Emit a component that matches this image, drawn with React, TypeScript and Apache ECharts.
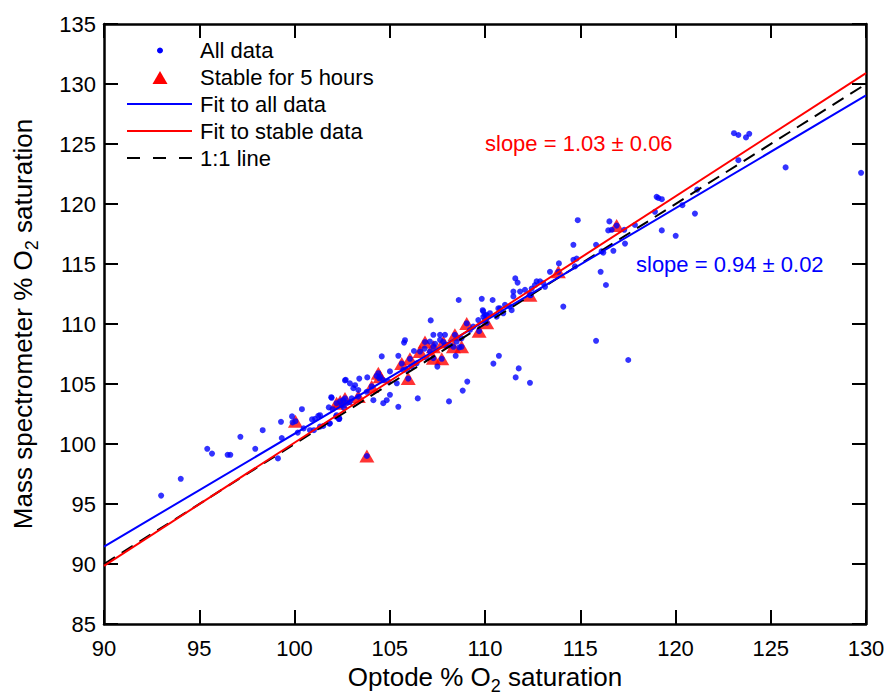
import React, { useEffect, useRef } from "react";
import * as echarts from "echarts";

// Stable for 5 hours (optode %, mass spectrometer %)
const stableData: [number, number][] = [
  [100.05, 101.9], [102.21, 103.4], [102.4, 103.55], [102.65, 103.8], [103.35, 103.95],
  [103.8, 99.0], [104.05, 104.8], [104.4, 105.9], [104.5, 105.6], [105.63, 106.7],
  [105.97, 105.45], [106.06, 107.1], [106.59, 107.7], [106.85, 108.5], [107.29, 107.15],
  [107.29, 108.1], [107.73, 107.1], [107.81, 108.5], [108.34, 108.1], [108.42, 109.1],
  [108.77, 108.1], [109.04, 110.05], [109.69, 109.4], [110.09, 110.1], [112.36, 112.4],
  [113.85, 114.35], [116.91, 118.2],
];

// Remaining points of the full record
const otherData: [number, number][] = [
  [93.0, 95.7], [94.03, 97.1], [95.42, 99.6], [95.67, 99.2], [96.49, 99.1], [96.63, 99.1],
  [97.16, 100.6], [97.94, 99.6], [98.33, 101.15], [99.13, 98.8], [99.29, 101.85], [99.33, 100.5],
  [99.87, 102.3], [99.9, 101.8], [100.39, 102.9], [100.17, 100.95], [100.48, 101.3], [100.81, 101.15],
  [101.02, 101.15], [100.92, 102.05], [101.08, 102.1], [101.25, 102.35], [101.34, 102.4], [101.34, 101.45],
  [101.51, 101.5], [101.83, 101.7], [101.8, 103.05], [101.93, 103.9], [102.32, 102.1], [102.21, 102.4],
  [102.69, 105.35], [101.95, 103.85], [102.35, 102.15], [102.65, 105.3], [102.91, 105.05], [103.09, 104.65],
  [103.35, 104.5], [103.18, 104.9], [103.4, 105.45], [103.82, 105.55], [102.56, 103.65], [102.74, 103.4],
  [102.48, 103.25], [102.9, 103.5], [102.6, 103.0], [103.79, 104.35], [104.14, 103.65], [104.66, 103.4],
  [104.84, 103.65], [105.01, 104.1], [105.45, 103.1], [104.58, 107.3], [105.01, 106.05], [105.45, 107.35],
  [105.75, 108.45], [105.8, 108.65], [105.92, 106.15], [106.27, 107.75], [106.47, 103.8], [107.15, 110.3],
  [106.83, 107.95], [106.94, 107.15], [107.11, 107.7], [107.29, 109.1], [107.64, 109.1], [107.9, 109.1],
  [107.38, 108.35], [107.5, 106.45], [107.9, 108.25], [108.46, 107.35], [108.11, 103.55], [108.62, 112.0],
  [108.83, 104.45], [109.07, 105.2], [108.65, 108.05], [109.83, 112.1], [110.4, 112.0], [111.05, 111.6],
  [109.91, 111.05], [110.0, 110.75], [110.26, 110.9], [110.7, 111.3], [110.44, 106.7], [110.73, 107.35],
  [111.61, 105.55], [111.77, 106.3], [112.36, 105.1], [111.59, 113.8], [111.71, 113.45], [111.49, 112.7],
  [111.84, 112.7], [112.1, 112.85], [112.45, 112.95], [112.62, 113.25], [112.89, 113.55], [113.06, 113.4],
  [110.79, 111.3], [111.4, 111.15], [111.49, 112.3], [112.4, 112.4], [112.71, 113.55], [113.15, 113.1],
  [113.41, 114.35], [113.88, 115.05], [114.11, 111.45], [114.64, 116.6], [114.64, 115.35], [114.81, 115.45],
  [114.87, 118.65], [114.72, 114.8], [115.83, 116.6], [116.07, 114.35], [116.35, 113.25], [116.12, 116.05],
  [116.21, 115.95], [115.83, 108.6], [116.53, 118.55], [116.47, 117.8], [116.65, 117.85], [116.74, 116.1],
  [117.35, 116.7], [117.31, 117.85], [117.52, 107.0], [117.87, 118.25], [119.01, 120.6], [119.1, 120.5],
  [119.28, 120.4], [118.92, 119.35], [119.28, 117.8], [120.01, 117.35], [120.36, 119.9], [121.02, 119.2],
  [121.14, 121.2], [123.07, 125.9], [123.3, 125.75], [123.7, 125.55], [123.87, 125.85], [123.3, 123.65],
  [125.78, 123.05], [129.74, 122.6], [109.88, 111.15], [110.09, 110.75], [109.91, 110.6], [110.0, 110.35],
  [104.31, 105.67], [104.45, 105.47], [104.66, 105.33], [104.93, 105.19], [105.37, 105.06], [105.71, 106.17],
  [106.15, 106.44], [106.41, 106.72], [107.11, 108.53], [107.64, 108.67], [108.16, 108.25], [108.51, 108.53],
  [108.77, 108.81], [109.21, 109.5], [109.38, 109.78], [109.65, 110.33], [110.61, 110.61], [110.96, 110.89],
  [111.31, 111.44], [101.86, 101.72], [102.18, 102.28], [102.35, 102.08], [102.0, 102.9], [103.0, 103.8],
];

const allData: [number, number][] = [...otherData, ...stableData];

const fitAllLine: [number, number][] = [[90, 91.45], [130, 129.05]];
const fitStableLine: [number, number][] = [[90, 89.85], [130, 130.9]];
const oneToOneLine: [number, number][] = [[90, 90], [130, 130]];

const legendLabels = ["All data", "Stable for 5 hours", "Fit to all data", "Fit to stable data", "1:1 line"];
const slopeLabels = ["slope = 1.03 \u00b1 0.06", "slope = 0.94 \u00b1 0.02"];

const FONT = '"Liberation Sans", Arial, Helvetica, sans-serif';
const BLUE = "#0000ff";
const RED = "#ff0000";

export default function App() {
  const ref = useRef<HTMLDivElement>(null);

  useEffect(() => {
    if (!ref.current) return;
    const chart = echarts.init(ref.current, undefined, { renderer: "svg" });

    const axisCommon = {
      type: "value" as const,
      splitLine: { show: false },
      axisLine: { show: true, onZero: false, lineStyle: { color: "#000", width: 2.5 } },
      axisTick: { show: true, inside: true, length: 14, lineStyle: { color: "#000", width: 2 } },
    };

    const titleRich = {
      a: { fontSize: 26, fontFamily: FONT, color: "#000", lineHeight: 30, verticalAlign: "top" },
      s: { fontSize: 18, fontFamily: FONT, color: "#000", lineHeight: 18, verticalAlign: "top", padding: [13, 0, 0, 0] },
    };

    const textStyleBase = (fill: string) => ({
      fill,
      fontSize: 22,
      fontFamily: FONT,
      align: "left",
      verticalAlign: "middle",
      textAlign: "left",
      textVerticalAlign: "middle",
    });

    const legendX = 200;
    const legendYs = [50.5, 77.5, 104, 131, 158];

    chart.setOption({
      animation: false,
      backgroundColor: "#fff",
      grid: { left: 104, top: 24, width: 762, height: 600, containLabel: false, outerBoundsMode: "none" },
      xAxis: [
        {
          ...axisCommon,
          position: "bottom",
          min: 90,
          max: 130,
          interval: 5,
          axisLabel: { show: true, margin: 13, fontSize: 22, fontFamily: FONT, color: "#000", showMinLabel: true, showMaxLabel: true },
          name: "{a|Optode % O}{s|2}{a| saturation}",
          nameLocation: "middle",
          nameGap: 38,
          nameTextStyle: { rich: titleRich },
        },
        {
          ...axisCommon,
          position: "top",
          min: 90,
          max: 130,
          interval: 5,
          axisLabel: { show: false },
        },
      ],
      yAxis: [
        {
          ...axisCommon,
          position: "left",
          min: 85,
          max: 135,
          interval: 5,
          axisLabel: { show: true, margin: 8, fontSize: 22, fontFamily: FONT, color: "#000", showMinLabel: true, showMaxLabel: true },
          name: "{a|Mass spectrometer % O}{s|2}{a| saturation}",
          nameLocation: "middle",
          nameRotate: 90,
          nameGap: 64,
          nameTextStyle: { rich: titleRich },
        },
        {
          ...axisCommon,
          position: "right",
          min: 85,
          max: 135,
          interval: 5,
          axisLabel: { show: false },
        },
      ],
      series: [
        {
          name: "Stable for 5 hours",
          type: "scatter",
          data: stableData,
          symbol: "triangle",
          symbolSize: [15, 13],
          itemStyle: { color: RED },
          z: 2,
          silent: true,
        },
        {
          name: "All data",
          type: "scatter",
          data: allData,
          symbol: "circle",
          symbolSize: 6,
          itemStyle: { color: BLUE },
          z: 3,
          silent: true,
        },
        {
          name: "1:1 line",
          type: "line",
          data: oneToOneLine,
          showSymbol: false,
          symbol: "none",
          lineStyle: { color: "#000", width: 2, type: [13, 8] },
          z: 4,
          silent: true,
        },
        {
          name: "Fit to all data",
          type: "line",
          data: fitAllLine,
          showSymbol: false,
          symbol: "none",
          lineStyle: { color: BLUE, width: 2 },
          z: 5,
          silent: true,
        },
        {
          name: "Fit to stable data",
          type: "line",
          data: fitStableLine,
          showSymbol: false,
          symbol: "none",
          lineStyle: { color: RED, width: 2 },
          z: 6,
          silent: true,
        },
      ],
      graphic: [
        { type: "circle", shape: { cx: 160, cy: legendYs[0], r: 3 }, style: { fill: BLUE }, z: 100 },
        {
          type: "polygon",
          shape: { points: [[160, legendYs[1] - 6.5], [167.5, legendYs[1] + 6.5], [152.5, legendYs[1] + 6.5]] },
          style: { fill: RED },
          z: 100,
        },
        { type: "line", shape: { x1: 127, y1: legendYs[2], x2: 192, y2: legendYs[2] }, style: { stroke: BLUE, lineWidth: 2 }, z: 100 },
        { type: "line", shape: { x1: 127, y1: legendYs[3], x2: 192, y2: legendYs[3] }, style: { stroke: RED, lineWidth: 2 }, z: 100 },
        {
          type: "line",
          shape: { x1: 127, y1: legendYs[4], x2: 192, y2: legendYs[4] },
          style: { stroke: "#000", lineWidth: 2, lineDash: [13, 13] },
          z: 100,
        },
        ...legendLabels.map((t, i) => ({
          type: "text",
          x: legendX,
          y: legendYs[i],
          style: { text: t, ...textStyleBase("#000") },
          z: 100,
        })),
        { type: "text", x: 485, y: 143, style: { text: slopeLabels[0], ...textStyleBase(RED) }, z: 100 },
        { type: "text", x: 636, y: 264, style: { text: slopeLabels[1], ...textStyleBase(BLUE) }, z: 100 },
      ],
    });

    return () => chart.dispose();
  }, []);

  return (
    <div
      ref={ref}
      style={{ position: "fixed", left: 0, top: 0, width: 887, height: 696, background: "#fff" }}
    />
  );
}
